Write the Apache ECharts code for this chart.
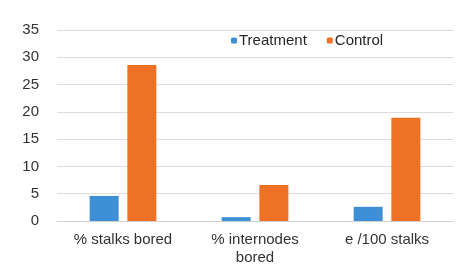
<!DOCTYPE html>
<html>
<head>
<meta charset="utf-8">
<script src="https://cdn.jsdelivr.net/npm/echarts@6/dist/echarts.min.js"></script>
<style>
  html, body { margin: 0; padding: 0; background: #fff; }
  #chart { width: 465px; height: 266px; }
</style>
</head>
<body>
<div id="chart"></div>
<script>
const categories = ['% stalks bored', '% internodes\nbored', 'e /100 stalks'];
const treatment = [4.6, 0.7, 2.6];
const control = [28.6, 6.6, 18.9];
const yTicks = { min: 0, max: 35, interval: 5 };

const chart = echarts.init(document.getElementById('chart'));

chart.setOption({
  animation: false,
  textStyle: { fontFamily: 'Liberation Sans, Arial, sans-serif' },
  legend: {
    top: 28,
    left: 226,
    itemWidth: 6,
    itemHeight: 6,
    itemGap: 20,
    textStyle: { fontSize: 15, color: '#262626', padding: [0, 0, 0, -3] },
    data: ['Treatment', 'Control']
  },
  grid: { left: 57, right: 12, top: 30, bottom: 45, outerBoundsMode: 'none' },
  xAxis: {
    type: 'category',
    data: categories,
    axisTick: { show: false },
    axisLine: { lineStyle: { color: '#d0d0d0' } },
    axisLabel: { fontSize: 15, color: '#333', margin: 10, lineHeight: 18 }
  },
  yAxis: {
    type: 'value',
    min: yTicks.min,
    max: yTicks.max,
    interval: yTicks.interval,
    axisLabel: { fontSize: 15, color: '#333', margin: 18 },
    splitLine: { lineStyle: { color: '#dcdcdc' } }
  },
  series: [
    {
      name: 'Treatment',
      type: 'bar',
      data: treatment,
      barWidth: 29,
      barGap: '30%',
      itemStyle: { color: '#3d8fd6' }
    },
    {
      name: 'Control',
      type: 'bar',
      data: control,
      barWidth: 29,
      itemStyle: { color: '#ef7123' }
    }
  ]
});
</script>
</body>
</html>
